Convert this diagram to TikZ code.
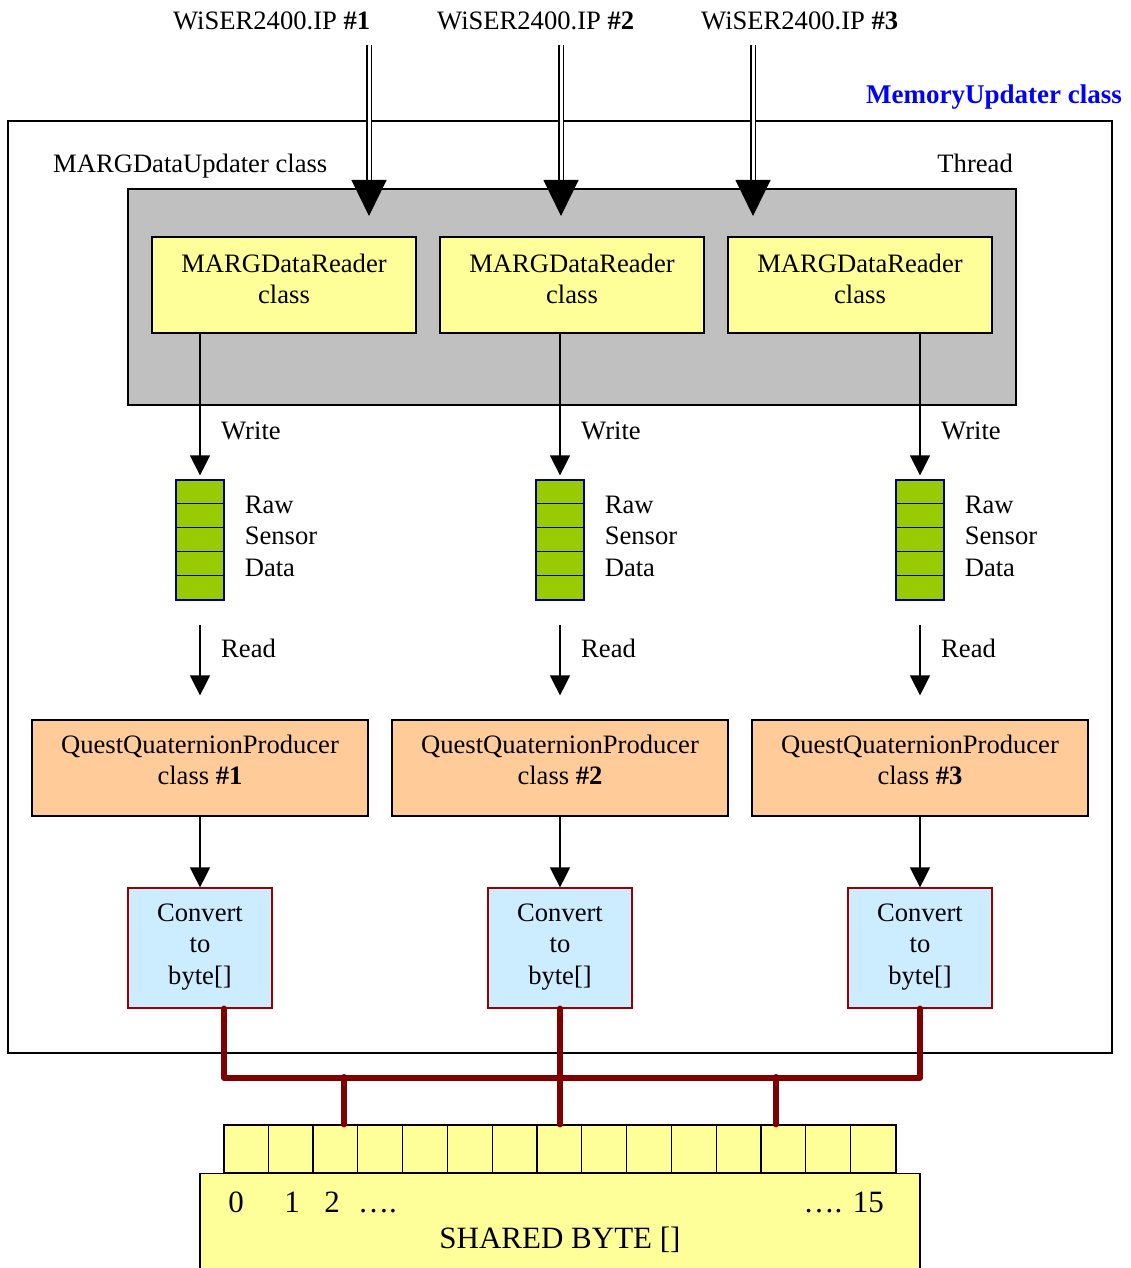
\documentclass[tikz,border=0pt]{standalone}
\usepackage{fontspec}
\setmainfont{Liberation Serif}
\usetikzlibrary{arrows.meta,calc}

\definecolor{panelgray}{HTML}{C0C0C0}
\definecolor{paleyellow}{HTML}{FFFF99}
\definecolor{leafgreen}{HTML}{99CC00}
\definecolor{stackblue}{HTML}{000099}
\definecolor{peach}{HTML}{FFCC99}
\definecolor{iceblue}{HTML}{CCECFF}
\definecolor{boxred}{HTML}{990000}
\definecolor{busred}{HTML}{800000}

\begin{document}
\begin{tikzpicture}[x=1pt,y=-1pt,
  every node/.style={font=\fontsize{26.6}{31.5}\selectfont, inner sep=0pt},
  frame/.style={draw=black, line width=1.2pt},
  reader/.style={frame, fill=paleyellow, minimum width=264pt, minimum height=96pt},
  producer/.style={frame, fill=peach, minimum width=336pt, minimum height=96pt},
  converter/.style={draw=boxred, line width=1.2pt, fill=iceblue, minimum width=144pt, minimum height=120pt},
  stack/.style={draw=stackblue, line width=1.2pt, fill=leafgreen, minimum width=48pt, minimum height=120pt},
  txt/.style={align=center},
  flow/.style={line width=1.2pt, -{Triangle[width=20pt,length=20pt]}},
  feed/.style={line width=1.2pt, double, double distance=3pt},
  feedtip/.style={line width=1pt, -{Triangle[width=35pt,length=36pt]}},
  bus/.style={busred, line width=6pt, line cap=round, line join=round},
  bigtext/.style={font=\fontsize{31}{36}\selectfont},
]
\useasboundingbox (0,0) rectangle (1131,1268);

% outer MemoryUpdater frame and its title
\node[frame, minimum width=1104pt, minimum height=932pt] (mem) at (560,587) {};
\node[anchor=base east, font=\fontsize{27}{31.5}\selectfont\bfseries, text=blue] (memtitle) at (1122,104) {MemoryUpdater class};
\node[anchor=base west] (updtitle) at (53,173) {MARGDataUpdater class};
\node[anchor=base east] (thread) at (1013,173) {Thread};

% thread panel with the three readers
\node[frame, fill=panelgray, minimum width=888pt, minimum height=216pt] (panel) at (572,297) {};
\foreach \i/\x in {1/284,2/572,3/860}
  \node[reader, label={[txt,yshift=6pt]center:{MARGDataReader\\class}}] (r\i) at (\x,285) {};

% incoming sensor streams
\foreach \i/\lx/\ax in {1/173/369,2/437/561,3/701/753}{
  \node[anchor=base west] (ip\i) at (\lx,30) {WiSER2400.IP \textbf{\#\i}};
  \coordinate (in\i) at (\ax,45);
  \coordinate (tip\i) at (\ax,216);
  \draw[feed] (in\i) -- ($(tip\i)+(0,-33)$);
  \draw[feedtip] ($(tip\i)+(0,-36)$) -- (tip\i);
}

% per-channel pipeline: raw buffer, producer, converter
\foreach \i/\x in {1/200,2/560,3/920}{
  \node[stack] (s\i) at (\x,540) {};
  \foreach \k in {1,...,4}
    \draw[stackblue, line width=1.2pt] ($(s\i.north west)+(0,24*\k)$) -- ($(s\i.north east)+(0,24*\k)$);
  \node[anchor=west, align=left] (raw\i) at ($(s\i.east)+(20,-4)$) {Raw\\Sensor\\Data};

  \node[producer, label={[txt,yshift=8pt]center:{QuestQuaternionProducer\\class \textbf{\#\i}}}] (q\i) at (\x,768) {};
  \node[converter, label={[txt,yshift=1pt]center:{Convert\\to\\byte[]}}] (c\i) at (\x,948) {};

  \draw[flow] (s\i.north |- r\i.south) -- ([yshift=4pt]s\i.north);
  \node[anchor=base west] (wr\i) at ($(s\i.north)+(21,-40)$) {Write};
  \draw[flow] ([yshift=-24pt]s\i.south) -- ([yshift=24pt]q\i.north);
  \node[anchor=base west] (rd\i) at ($(s\i.south)+(21,57)$) {Read};
  \draw[flow] (q\i.south) -- (c\i.north);
}

% shared byte array
\node[frame, fill=paleyellow, minimum width=720pt, minimum height=110pt, anchor=north] (shared) at (560,1173) {};
\node[frame, fill=paleyellow, minimum width=672pt, minimum height=48pt] (arr) at (560,1149) {};
\foreach \k in {1,...,14}
  \draw[line width=1.2pt] ($(arr.north west)+(44.8*\k,0)$) -- ($(arr.south west)+(44.8*\k,0)$);
\node[bigtext, anchor=base] (i0) at (236,1212) {0};
\node[bigtext, anchor=base] (i1) at (292,1212) {1};
\node[bigtext, anchor=base] (i2) at (332,1212) {2};
\node[bigtext, anchor=base west] (dots) at (358,1212) {….};
\node[bigtext, anchor=base east] (i15) at (884,1212) {…. 15};
\node[bigtext, anchor=base] (sharedlbl) at (560,1248) {SHARED BYTE []};

% bus from the converters into the shared array
\coordinate (j1) at (344,1077);
\coordinate (j2) at (776,1077);
\draw[bus] ([xshift=24pt]c1.south) -- ++(0,69) -| (c3.south);
\draw[bus] (c2.south) -- (c2.south |- arr.north);
\draw[bus] (j1) -- (j1 |- arr.north);
\draw[bus] (j2) -- (j2 |- arr.north);
\end{tikzpicture}
\end{document}
